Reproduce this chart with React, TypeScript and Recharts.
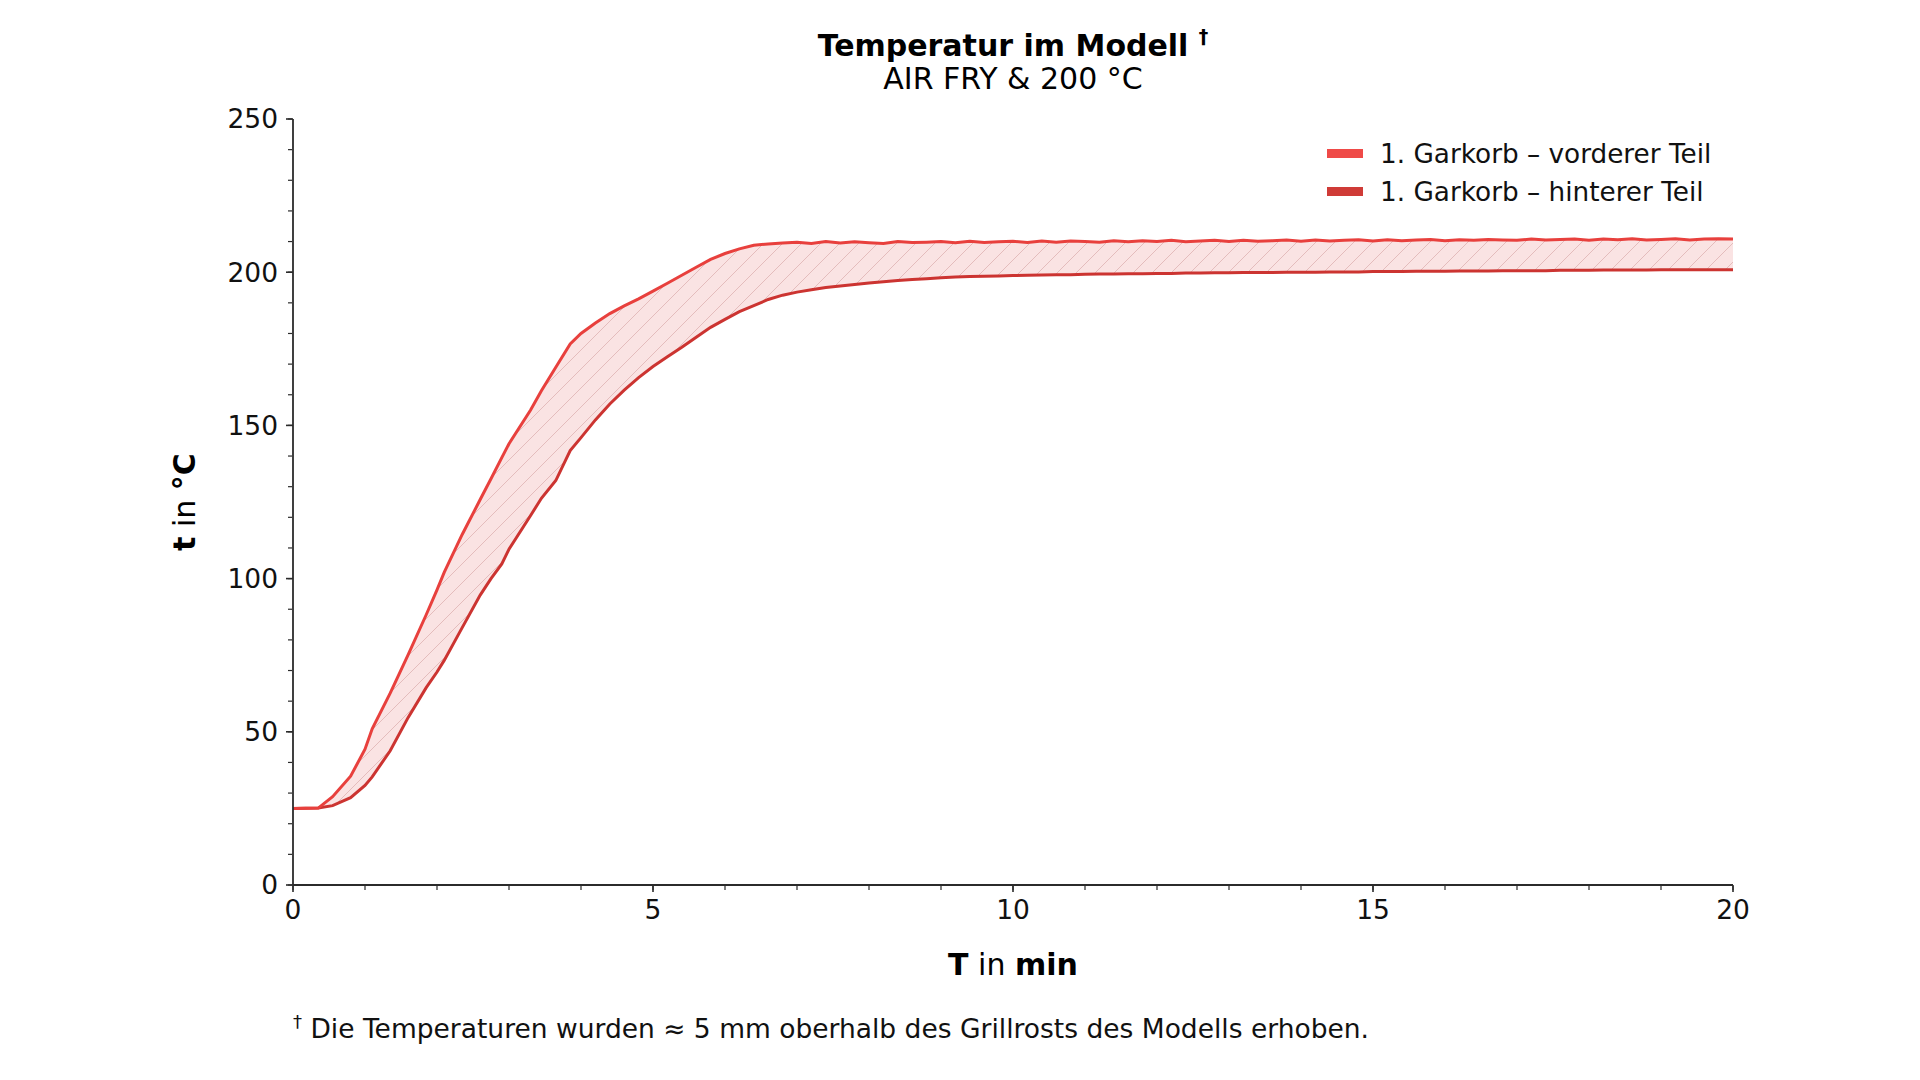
import React from 'react';
import { ComposedChart, Area, Line, XAxis, YAxis } from 'recharts';

// Zeit in min
const times = [
  0, 0.35, 0.55, 0.8, 1.0, 1.1, 1.35, 1.6, 1.85, 2.0, 2.1, 2.35, 2.6, 2.75, 2.9, 3.0, 3.3, 3.45, 3.65, 3.85, 4.0,
  4.2, 4.4, 4.6, 4.8, 5.0, 5.2, 5.4, 5.6, 5.8, 6.0, 6.2, 6.4, 6.6, 6.8, 7.0,
  7.2, 7.4, 7.6, 7.8, 8.0, 8.2, 8.4, 8.6, 8.8, 9.0, 9.2, 9.4, 9.6, 9.8, 10.0,
  10.2, 10.4, 10.6, 10.8, 11.0, 11.2, 11.4, 11.6, 11.8, 12.0, 12.2, 12.4, 12.6, 12.8, 13.0,
  13.2, 13.4, 13.6, 13.8, 14.0, 14.2, 14.4, 14.6, 14.8, 15.0, 15.2, 15.4, 15.6, 15.8, 16.0,
  16.2, 16.4, 16.6, 16.8, 17.0, 17.2, 17.4, 17.6, 17.8, 18.0, 18.2, 18.4, 18.6, 18.8, 19.0,
  19.2, 19.4, 19.6, 19.8, 20.0,
];

// 1. Garkorb – vorderer Teil
const frontTemps = [
  25, 25.1, 28.8, 35.5, 44.3, 51, 62.6, 75.2, 88.2, 96.3, 102, 114.4, 125.8, 132.6, 139.5, 144, 155, 161.3, 169, 176.6, 180,
  183.4, 186.5, 189, 191.3, 193.8, 196.4, 199, 201.6, 204.2, 206.1, 207.6, 208.8, 209.2, 209.5, 209.8,
  209.4, 210.0, 209.5, 209.9, 209.6, 209.4, 210.0, 209.7, 209.8, 210.0, 209.6, 210.1, 209.7, 209.9, 210.1,
  209.7, 210.2, 209.8, 210.2, 210.0, 209.8, 210.3, 209.9, 210.3, 210.0, 210.4, 209.9, 210.2, 210.4, 210.0,
  210.4, 210.1, 210.3, 210.5, 210.1, 210.5, 210.2, 210.4, 210.6, 210.2, 210.6, 210.3, 210.5, 210.7, 210.3,
  210.6, 210.4, 210.7, 210.5, 210.4, 210.8, 210.5, 210.7, 210.8, 210.4, 210.8, 210.6, 210.9, 210.5, 210.7,
  210.9, 210.5, 210.8, 210.9, 210.8,
];

// 1. Garkorb – hinterer Teil
const backTemps = [
  25, 25.1, 25.9, 28.5, 32.5, 35.3, 43.8, 54.7, 64.4, 69.5, 73.3, 84, 94.6, 100, 104.8, 109.6, 120.6, 126.2, 132, 141.8, 146,
  151.8, 157, 161.5, 165.6, 169.2, 172.4, 175.5, 178.8, 182, 184.6, 187.1, 189.1, 191.1, 192.5, 193.5,
  194.3, 195.0, 195.5, 196.0, 196.5, 196.9, 197.3, 197.6, 197.9, 198.2, 198.4, 198.6, 198.7, 198.8, 198.9,
  199.0, 199.1, 199.2, 199.2, 199.3, 199.4, 199.4, 199.5, 199.5, 199.6, 199.6, 199.7, 199.7, 199.8, 199.8,
  199.9, 199.9, 199.9, 200.0, 200.0, 200.0, 200.1, 200.1, 200.1, 200.2, 200.2, 200.2, 200.3, 200.3, 200.3,
  200.4, 200.4, 200.4, 200.5, 200.5, 200.5, 200.5, 200.6, 200.6, 200.6, 200.7, 200.7, 200.7, 200.7, 200.8,
  200.8, 200.8, 200.8, 200.8, 200.8,
];

const xTicks = [0, 5, 10, 15, 20];
const xMinorTicks = [0, 1, 2, 3, 4, 5, 6, 7, 8, 9, 10, 11, 12, 13, 14, 15, 16, 17, 18, 19, 20];
const yTicks = [0, 50, 100, 150, 200, 250];
const yMinorTicks = [0, 10, 20, 30, 40, 50, 60, 70, 80, 90, 100, 110, 120, 130, 140, 150, 160, 170, 180, 190, 200, 210, 220, 230, 240, 250];

const seriesNames = ['1. Garkorb – vorderer Teil', '1. Garkorb – hinterer Teil'];

const FONT = '"DejaVu Sans", sans-serif';
const FRONT_COLOR = '#e8403d';
const BACK_COLOR = '#cc3431';
const AXIS_COLOR = '#2b2b2b';

const data = times.map((t, i) => ({
  t,
  front: frontTemps[i],
  back: backTemps[i],
  band: [backTemps[i], frontTemps[i]],
}));

const empty = () => '';

export default function App() {
  return (
    <div style={{ position: 'absolute', left: 0, top: 0, width: 1920, height: 1080, background: '#fff' }}>
      <ComposedChart
        width={1920}
        height={1080}
        data={data}
        margin={{ top: 119, right: 187, bottom: 193, left: 291 }}
        style={{ fontFamily: FONT }}
      >
        <defs>
          <pattern id="hatch" width="19" height="19" patternUnits="userSpaceOnUse">
            <rect width="19" height="19" fill="#fae3e3" />
            <path d="M0,19 L19,0 M-4,4 L4,-4 M15,23 L23,15" stroke="#e4bcbc" strokeWidth="1" />
          </pattern>
        </defs>

        <XAxis
          dataKey="t"
          type="number"
          domain={[0, 20]}
          ticks={xTicks}
          tickSize={7}
          tickMargin={8}
          height={1}
          axisLine={{ stroke: AXIS_COLOR, strokeWidth: 1.8 }}
          tickLine={{ stroke: AXIS_COLOR, strokeWidth: 1.6 }}
          tick={{ fill: '#111', fontSize: 26.5, fontFamily: FONT }}
          allowDataOverflow
        />
        <XAxis
          xAxisId="minor"
          dataKey="t"
          type="number"
          domain={[0, 20]}
          ticks={xMinorTicks}
          tickFormatter={empty}
          tickSize={4}
          axisLine={false}
          tickLine={{ stroke: AXIS_COLOR, strokeWidth: 1.2 }}
          height={1}
          allowDataOverflow
        />
        <YAxis
          type="number"
          domain={[0, 250]}
          ticks={yTicks}
          tickSize={7}
          tickMargin={8}
          width={1}
          axisLine={{ stroke: AXIS_COLOR, strokeWidth: 1.8 }}
          tickLine={{ stroke: AXIS_COLOR, strokeWidth: 1.6 }}
          tick={{ fill: '#111', fontSize: 26.5, fontFamily: FONT }}
          allowDataOverflow
        />
        <YAxis
          yAxisId="minor"
          type="number"
          domain={[0, 250]}
          ticks={yMinorTicks}
          tickFormatter={empty}
          tickSize={4}
          axisLine={false}
          tickLine={{ stroke: AXIS_COLOR, strokeWidth: 1.2 }}
          width={1}
          allowDataOverflow
        />

        <Area
          type="linear"
          dataKey="band"
          fill="url(#hatch)"
          fillOpacity={1}
          stroke="none"
          isAnimationActive={false}
          activeDot={false}
        />
        <Line type="linear" dataKey="back" stroke={BACK_COLOR} strokeWidth={3} dot={false} activeDot={false} isAnimationActive={false} />
        <Line type="linear" dataKey="front" stroke={FRONT_COLOR} strokeWidth={3} dot={false} activeDot={false} isAnimationActive={false} />

        {/* Titel */}
        <text x={1013} y={56} textAnchor="middle" fontFamily={FONT} fontSize={30} fontWeight="bold" fill="#000">
          Temperatur im Modell{' '}
          <tspan fontSize={19} dy={-13}>†</tspan>
        </text>
        <text x={1013} y={89} textAnchor="middle" fontFamily={FONT} fontSize={30} fill="#000">
          AIR FRY &amp; 200 °C
        </text>

        {/* Achsentitel */}
        <text x={1013} y={975} textAnchor="middle" fontFamily={FONT} fontSize={30} fill="#000">
          <tspan fontWeight="bold">T</tspan> in <tspan fontWeight="bold">min</tspan>
        </text>
        <text
          x={184}
          y={502}
          textAnchor="middle"
          dominantBaseline="central"
          transform="rotate(-90 184 502)"
          fontFamily={FONT}
          fontSize={30}
          fill="#000"
        >
          <tspan fontWeight="bold">t</tspan> in <tspan fontWeight="bold">°C</tspan>
        </text>

        {/* Legende */}
        {seriesNames.map((name, i) => (
          <g key={name}>
            <rect x={1327} y={149 + i * 38} width={36} height={9} fill={i === 0 ? '#ef4a47' : '#cf3b37'} />
            <text x={1380} y={154 + i * 38} dominantBaseline="central" fontFamily={FONT} fontSize={26.3} fill="#111">
              {name}
            </text>
          </g>
        ))}

        {/* Fussnote */}
        <text x={293} y={1038} fontFamily={FONT} fontSize={26.5} fill="#111">
          <tspan fontSize={18} dy={-10}>†</tspan>
          <tspan dy={10}> Die Temperaturen wurden ≈ 5 mm oberhalb des Grillrosts des Modells erhoben.</tspan>
        </text>
      </ComposedChart>
    </div>
  );
}
